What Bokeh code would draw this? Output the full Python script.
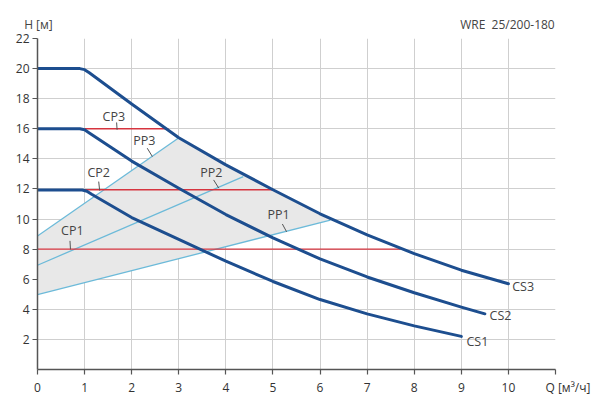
from bokeh.plotting import figure
from bokeh.models import Range1d, FixedTicker, LinearAxis, ColumnDataSource
from bokeh.core.properties import value
from bokeh.embed import file_html
from bokeh.resources import INLINE

FONT = "Open Sans"

# ---- data ----
cs3_q = [0, 0.9, 1.0, 1.1, 2, 3, 4, 5, 6, 7, 8, 9, 10]
cs3_h = [20, 20, 19.93, 19.72, 17.65, 15.4, 13.6, 11.95, 10.35, 8.95, 7.7, 6.6, 5.7]

cs2_q = [0, 0.9, 1.0, 1.1, 2, 3, 4, 5, 6, 7, 8, 9, 9.5]
cs2_h = [16, 16, 15.93, 15.72, 13.85, 12.05, 10.3, 8.75, 7.35, 6.15, 5.1, 4.15, 3.7]

cs1_q = [0, 0.95, 1.05, 1.15, 2, 3, 4, 5, 6, 7, 8, 9]
cs1_h = [11.93, 11.93, 11.85, 11.65, 10.1, 8.65, 7.2, 5.85, 4.65, 3.7, 2.9, 2.2]

cp1_q = [0, 7.71]
cp1_h = [8, 8]
cp2_q = [1, 5.0]
cp2_h = [11.95, 11.95]
cp3_q = [1, 2.78]
cp3_h = [16, 16]

pp1_q = [0, 6.22]
pp1_h = [4.98, 9.93]
pp2_q = [0, 4.37]
pp2_h = [6.93, 12.82]
pp3_q = [0, 2.98]
pp3_h = [8.87, 15.35]

x_ticks = list(range(0, 12))
y_ticks = list(range(2, 23, 2))
x_unit_label = "Q [м³/ч]"
y_unit_label = "H [м]"
model_label = "WRE\u00a0\u00a025/200-180"

# ---- annotation positions ----
lbl_text = ["CP3", "PP3", "CP2", "PP2", "CP1", "PP1"]
lbl_q = [1.62, 2.27, 1.30, 3.69, 0.74, 5.12]
lbl_h = [16.82, 15.22, 13.09, 13.09, 9.27, 10.33]
lead_q0 = [1.68, 2.33, 1.30, 3.74, 0.69, 5.20]
lead_h0 = [16.42, 14.71, 12.49, 12.60, 8.55, 9.67]
lead_q1 = [1.69, 2.44, 1.32, 3.85, 0.70, 5.29]
lead_h1 = [15.93, 14.15, 11.89, 12.05, 7.98, 9.15]

cs_text = ["CS3", "CS2", "CS1"]
cs_lq = [10.08, 9.60, 9.11]
cs_lh = [5.49, 3.60, 1.89]

top_pos = [0.02, 9.98]

# ---- figure ----
p = figure(width=600, height=420, x_range=Range1d(0, 11), y_range=Range1d(0, 22),
           output_backend="svg", toolbar_location=None,
           min_border_left=37, min_border_right=45, min_border_top=38, min_border_bottom=51)
p.outline_line_color = None
p.background_fill_color = "white"
p.border_fill_color = "white"

p.xaxis.ticker = FixedTicker(ticks=x_ticks)
p.yaxis.ticker = FixedTicker(ticks=y_ticks)
p.xaxis.major_label_overrides = {11: "\u00a0" * 8 + x_unit_label}
p.xgrid.ticker = FixedTicker(ticks=x_ticks[1:])
p.ygrid.ticker = FixedTicker(ticks=y_ticks)
for g in (p.xgrid, p.ygrid):
    g.grid_line_color = "#cfcfcf"
    g.grid_line_width = 1

for ax in (p.xaxis, p.yaxis):
    ax.axis_line_color = "#555555"
    ax.axis_line_width = 1.5
    ax.major_tick_line_color = "#555555"
    ax.major_tick_line_width = 1.2
    ax.major_tick_out = 5
    ax.major_tick_in = 0
    ax.minor_tick_line_color = None
    ax.major_label_text_font = FONT
    ax.major_label_text_font_size = "12px"
    ax.major_label_text_color = "#333333"
p.yaxis.major_label_standoff = 3
p.xaxis.major_label_standoff = 4

# top texts (axis name and model) as an invisible axis above the plot
top = LinearAxis(ticker=FixedTicker(ticks=top_pos),
                 major_label_overrides={top_pos[0]: y_unit_label, top_pos[1]: model_label})
top.axis_line_color = None
top.major_tick_line_color = None
top.minor_tick_line_color = None
top.major_tick_out = 0
top.major_tick_in = 0
top.major_label_standoff = 6
top.major_label_text_font = FONT
top.major_label_text_font_size = "12px"
top.major_label_text_color = "#444444"
p.add_layout(top, "above")

# gray operating region
cs3_mid = [(q, h) for q, h in zip(cs3_q, cs3_h) if pp3_q[1] < q < pp1_q[1]]
poly_q = [pp1_q[0], pp1_q[1]] + [q for q, h in reversed(cs3_mid)] + [pp3_q[1], pp3_q[0]]
poly_h = [pp1_h[0], pp1_h[1]] + [h for q, h in reversed(cs3_mid)] + [pp3_h[1], pp3_h[0]]
p.patch(poly_q, poly_h, fill_color="#e8e8e8", line_color=None)

# proportional pressure lines
for q, h in ((pp1_q, pp1_h), (pp2_q, pp2_h), (pp3_q, pp3_h)):
    p.line(q, h, line_color="#6cbad9", line_width=1.3)

# constant pressure lines
for q, h in ((cp1_q, cp1_h), (cp2_q, cp2_h), (cp3_q, cp3_h)):
    p.line(q, h, line_color="#d6343f", line_width=1.4)

# pump curves
for q, h in ((cs1_q, cs1_h), (cs2_q, cs2_h), (cs3_q, cs3_h)):
    p.line(q, h, line_color="#1d4e8f", line_width=3, line_join="round", line_cap="round")

# leaders and labels
p.segment(lead_q0, lead_h0, lead_q1, lead_h1, line_color="#555555", line_width=1)
src = ColumnDataSource(dict(x=lbl_q, y=lbl_h, t=lbl_text))
p.text(x="x", y="y", text="t", source=src, text_font=value(FONT), text_font_size="12.5px",
       text_color="#444444", text_align="center", text_baseline="middle")
src2 = ColumnDataSource(dict(x=cs_lq, y=cs_lh, t=cs_text))
p.text(x="x", y="y", text="t", source=src2, text_font=value(FONT), text_font_size="12.5px",
       text_color="#444444", text_align="left", text_baseline="middle")

open("out.html", "w").write(file_html(p, INLINE))
